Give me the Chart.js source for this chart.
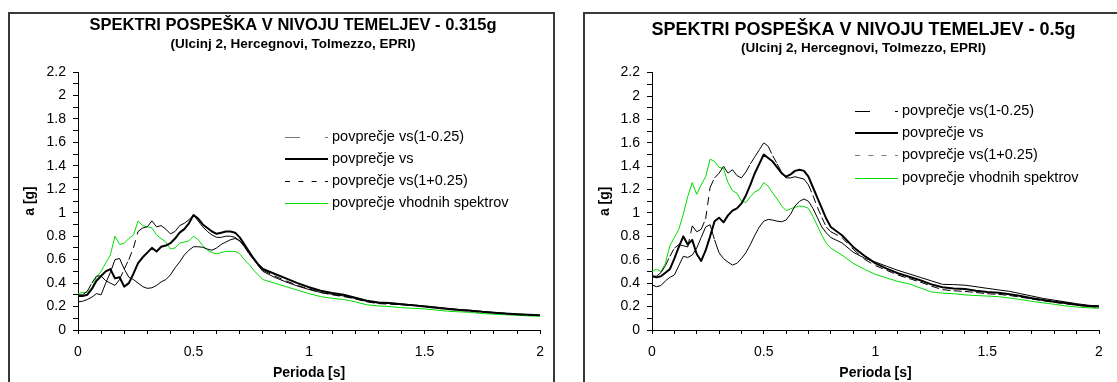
<!DOCTYPE html>
<html>
<head>
<meta charset="utf-8">
<script src="https://cdn.jsdelivr.net/npm/chart.js@4/dist/chart.umd.min.js"></script>
<style>
html,body{margin:0;padding:0;background:#fff;width:1117px;height:382px;overflow:hidden;position:relative;}
.frame{position:absolute;top:12px;height:400px;border:2px solid #383838;box-sizing:border-box;}
.holder{position:absolute;top:12px;height:370px;}
</style>
</head>
<body>
<div class="frame" style="left:8px;width:547px"></div>
<div class="frame" style="left:583px;width:547px"></div>
<div class="holder" style="left:10px;width:544px"><canvas id="c1"></canvas></div>
<div class="holder" style="left:585px;width:532px"><canvas id="c2"></canvas></div>
<script>
// ---------- data ----------
const periods = [0,0.02,0.04,0.06,0.08,0.1,0.12,0.14,0.16,0.18,0.2,0.22,0.24,0.26,0.28,0.3,0.32,0.34,0.36,0.38,0.4,0.42,0.44,0.46,0.48,0.5,0.52,0.54,0.56,0.58,0.6,0.62,0.64,0.66,0.68,0.7,0.72,0.74,0.76,0.78,0.8,
  0.85,0.9,0.95,1,1.05,1.1,1.15,1.2,1.25,1.3,1.35,1.4,1.45,1.5,1.55,1.6,1.65,1.7,1.75,1.8,1.85,1.9,1.95,2];

const seriesNames = ['povprečje vs(1-0.25)','povprečje vs','povprečje vs(1+0.25)','povprečje vhodnih spektrov'];

// chart 1: 0.315g
const a315_minus = [0.24,0.245,0.26,0.28,0.31,0.30,0.40,0.49,0.60,0.61,0.52,0.45,0.43,0.40,0.37,0.355,0.36,0.38,0.41,0.43,0.47,0.53,0.58,0.64,0.68,0.71,0.71,0.705,0.69,0.68,0.70,0.73,0.75,0.77,0.78,0.76,0.72,0.66,0.61,0.55,0.50,
  0.45,0.41,0.375,0.345,0.32,0.305,0.29,0.27,0.245,0.23,0.225,0.222,0.215,0.205,0.195,0.185,0.175,0.168,0.158,0.15,0.143,0.136,0.13,0.125];
const a315_mid = [0.29,0.29,0.30,0.35,0.42,0.46,0.50,0.52,0.44,0.45,0.37,0.40,0.48,0.57,0.62,0.66,0.70,0.67,0.71,0.72,0.74,0.78,0.83,0.86,0.91,0.98,0.95,0.90,0.87,0.84,0.82,0.83,0.84,0.84,0.83,0.79,0.73,0.67,0.61,0.56,0.52,
  0.48,0.44,0.40,0.365,0.335,0.315,0.30,0.275,0.25,0.235,0.23,0.22,0.21,0.20,0.19,0.18,0.17,0.165,0.155,0.148,0.14,0.135,0.13,0.126];
const a315_plus = [0.30,0.30,0.33,0.40,0.46,0.46,0.42,0.40,0.38,0.43,0.52,0.60,0.70,0.84,0.87,0.88,0.93,0.88,0.89,0.86,0.82,0.84,0.89,0.91,0.94,0.98,0.93,0.88,0.84,0.81,0.79,0.79,0.80,0.80,0.79,0.76,0.71,0.65,0.60,0.55,0.51,
  0.46,0.42,0.38,0.35,0.32,0.30,0.285,0.265,0.24,0.225,0.22,0.215,0.21,0.20,0.19,0.18,0.17,0.16,0.152,0.145,0.138,0.132,0.127,0.123];
const a315_input = [0.31,0.32,0.32,0.36,0.45,0.50,0.57,0.64,0.80,0.73,0.74,0.78,0.81,0.93,0.89,0.88,0.87,0.81,0.78,0.75,0.69,0.70,0.74,0.75,0.76,0.80,0.77,0.72,0.68,0.66,0.65,0.66,0.67,0.67,0.67,0.65,0.60,0.56,0.51,0.47,0.43,
  0.40,0.37,0.34,0.31,0.285,0.27,0.26,0.24,0.215,0.205,0.20,0.19,0.185,0.18,0.17,0.16,0.155,0.15,0.14,0.135,0.13,0.125,0.12,0.117];

// chart 2: 0.5g
const a05_minus = [0.385,0.37,0.38,0.42,0.45,0.47,0.55,0.63,0.62,0.64,0.70,0.79,0.88,0.90,0.77,0.66,0.61,0.58,0.555,0.57,0.61,0.66,0.73,0.81,0.88,0.93,0.945,0.94,0.93,0.925,0.94,0.99,1.06,1.10,1.12,1.10,1.04,0.96,0.88,0.83,0.79,
  0.745,0.665,0.615,0.58,0.545,0.51,0.48,0.45,0.42,0.39,0.388,0.383,0.37,0.356,0.343,0.33,0.31,0.29,0.27,0.255,0.24,0.225,0.212,0.205];
const a05_mid = [0.46,0.45,0.46,0.49,0.52,0.61,0.71,0.80,0.73,0.77,0.65,0.59,0.68,0.80,0.93,0.96,0.92,0.98,1.02,1.04,1.08,1.15,1.24,1.34,1.42,1.50,1.47,1.44,1.39,1.34,1.31,1.33,1.36,1.37,1.36,1.31,1.22,1.13,1.04,0.95,0.88,
  0.81,0.71,0.635,0.57,0.525,0.485,0.455,0.425,0.39,0.365,0.355,0.35,0.335,0.325,0.318,0.305,0.29,0.272,0.256,0.242,0.23,0.216,0.206,0.2];
const a05_plus = [0.46,0.46,0.49,0.55,0.63,0.70,0.73,0.72,0.71,0.89,0.84,0.86,0.95,1.22,1.30,1.34,1.40,1.34,1.37,1.32,1.30,1.35,1.42,1.48,1.54,1.60,1.57,1.49,1.42,1.35,1.30,1.30,1.31,1.30,1.29,1.24,1.15,1.05,0.96,0.88,0.84,
  0.79,0.69,0.605,0.55,0.51,0.47,0.44,0.41,0.375,0.345,0.335,0.33,0.32,0.31,0.305,0.295,0.28,0.265,0.25,0.236,0.224,0.212,0.202,0.196];
const a05_input = [0.50,0.52,0.50,0.57,0.72,0.79,0.86,0.99,1.14,1.26,1.16,1.24,1.31,1.46,1.44,1.39,1.38,1.26,1.19,1.17,1.10,1.09,1.14,1.18,1.20,1.26,1.23,1.17,1.12,1.06,1.02,1.035,1.05,1.06,1.055,1.04,0.97,0.89,0.81,0.74,0.70,
  0.64,0.57,0.52,0.475,0.445,0.415,0.395,0.36,0.325,0.315,0.31,0.30,0.295,0.29,0.285,0.273,0.26,0.245,0.232,0.22,0.206,0.196,0.19,0.185];

const xTicks = [0,0.1,0.2,0.3,0.4,0.5,0.6,0.7,0.8,0.9,1,1.1,1.2,1.3,1.4,1.5,1.6,1.7,1.8,1.9,2];
const xTickLabels = ['0','0.5','1','1.5','2'];
const yTicks = [0,0.1,0.2,0.3,0.4,0.5,0.6,0.7,0.8,0.9,1,1.1,1.2,1.3,1.4,1.5,1.6,1.7,1.8,1.9,2,2.1,2.2];
const yTickLabels = ['0','0.2','0.4','0.6','0.8','1','1.2','1.4','1.6','1.8','2','2.2'];

const titles1 = ['SPEKTRI POSPEŠKA V NIVOJU TEMELJEV - 0.315g', '(Ulcinj 2, Hercegnovi, Tolmezzo, EPRI)'];
const titles2 = ['SPEKTRI POSPEŠKA V NIVOJU TEMELJEV - 0.5g', '(Ulcinj 2, Hercegnovi, Tolmezzo, EPRI)'];
const xTitle = 'Perioda [s]';
const yTitle = 'a [g]';

// ---------- rendering ----------
const FONT = "'Liberation Sans', Arial, Helvetica, sans-serif";
Chart.defaults.font.family = FONT;
Chart.defaults.color = '#000';

const fmt = v => String(Math.round(v * 10) / 10);

const insideLegend = {
  id: 'insideLegend',
  afterDatasetsDraw(chart, args, opts) {
    const {ctx, chartArea} = chart;
    ctx.save();
    chart.data.datasets.forEach((ds, i) => {
      const yc = chartArea.top + opts.y + i * opts.step;
      const x0 = Math.round(chartArea.left + opts.x);
      const lw = ds.borderWidth;
      const yl = lw % 2 ? Math.round(yc) + 0.5 : Math.round(yc);
      ctx.beginPath();
      ctx.setLineDash(ds.legendDash || []);
      ctx.lineDashOffset = 0;
      ctx.strokeStyle = ds.legendColor || ds.borderColor;
      ctx.lineWidth = lw;
      ctx.moveTo(x0, yl);
      ctx.lineTo(x0 + opts.len, yl);
      ctx.stroke();
      ctx.setLineDash([]);
      ctx.fillStyle = '#000';
      ctx.font = opts.fontSize + 'px ' + FONT;
      ctx.textAlign = 'left';
      ctx.textBaseline = 'middle';
      ctx.fillText(ds.label, x0 + opts.len + 4, yc);
    });
    ctx.restore();
  }
};

// restart dash pattern on every segment (as the original plotting program does)
const restartDash = {borderDashOffset: c => (c.p0DataIndex % 2) * 0.001};

function buildDatasets(minus, mid, plus, input, greyIndex) {
  const pts = arr => periods.map((x, i) => ({x, y: arr[i]}));
  return [
    {label: seriesNames[0], data: pts(minus), borderColor: '#000', borderWidth: 1,
     borderDash: [15, 25, 3, 25], legendDash: [15, 25, 3, 25], legendColor: greyIndex === 0 ? '#7a7a7a' : '#000', segment: restartDash},
    {label: seriesNames[1], data: pts(mid), borderColor: '#000', borderWidth: 2},
    {label: seriesNames[2], data: pts(plus), borderColor: '#000', borderWidth: 1,
     borderDash: [8, 6], legendDash: [5, 8.3], legendColor: greyIndex === 2 ? '#7a7a7a' : '#000', segment: restartDash},
    {label: seriesNames[3], data: pts(input), borderColor: '#00dd00', borderWidth: 1}
  ];
}

function makeChart(id, titles, datasets, L) {
  return new Chart(document.getElementById(id), {
    type: 'line',
    data: {datasets},
    plugins: [insideLegend],
    options: {
      animation: false,
      responsive: true,
      maintainAspectRatio: false,
      devicePixelRatio: 1,
      layout: {padding: {left: L.padLeft, right: L.padRight, top: 0, bottom: 0}},
      elements: {point: {radius: 0, hoverRadius: 0}, line: {tension: 0, borderCapStyle: 'butt', borderJoinStyle: 'round'}},
      plugins: {
        legend: {display: false},
        tooltip: {enabled: false},
        title: {display: true, text: titles[0], color: '#000',
          font: {size: L.titleSize, weight: 'bold', family: FONT}, padding: {top: L.titleTop, bottom: 0}},
        subtitle: {display: true, text: titles[1], color: '#000',
          font: {size: 13.5, weight: 'bold', family: FONT}, padding: {top: 0, bottom: L.subBottom}},
        insideLegend: {x: L.legX, y: L.legY, step: L.legStep, len: 43, fontSize: 14.5}
      },
      scales: {
        x: {
          type: 'linear', min: 0, max: 2,
          afterBuildTicks: s => { s.ticks = xTicks.map(v => ({value: v})); },
          afterFit: s => { s.height = 52; },
          ticks: {autoSkip: false, maxRotation: 0, padding: 10, color: '#000', font: {size: 14},
            callback: v => xTickLabels.includes(fmt(v)) ? fmt(v) : ''},
          grid: {display: true, drawOnChartArea: false, drawTicks: true, tickLength: 4, color: '#000', lineWidth: 1},
          border: {display: true, color: '#000', width: 1},
          title: {display: true, text: xTitle, color: '#000', font: {size: 14, weight: 'bold'}, padding: {top: 0, bottom: 0}}
        },
        y: {
          type: 'linear', min: 0, max: 2.2,
          afterBuildTicks: s => { s.ticks = yTicks.map(v => ({value: v})); },
          afterFit: s => { s.width = L.yWidth; },
          ticks: {autoSkip: false, padding: 7, color: '#000', font: {size: 14},
            callback: v => yTickLabels.includes(fmt(v)) ? fmt(v) : ''},
          grid: {display: true, drawOnChartArea: false, drawTicks: true, tickLength: 5, color: '#000', lineWidth: 1},
          border: {display: true, color: '#000', width: 1},
          title: {display: true, text: yTitle, color: '#000', font: {size: 14, weight: 'bold'}, padding: {top: L.yTitlePad, bottom: 0}}
        },
        // empty right-hand margin box (no ticks, no line) so the plot ends where the original does
        yRight: {
          type: 'linear', position: 'right', display: true, min: 0, max: 1,
          afterFit: s => { s.width = L.rightGap; },
          ticks: {display: false},
          grid: {display: false, drawTicks: false},
          border: {display: false},
          title: {display: false}
        }
      }
    }
  });
}

makeChart('c1', titles1, buildDatasets(a315_minus, a315_mid, a315_plus, a315_input, 0),
  {padLeft: 22, padRight: 0, rightGap: 12, yWidth: 46, yTitlePad: -10.4, titleSize: 16.5, titleTop: 4, subBottom: 20,
   legX: 207, legY: 65, legStep: 22});
makeChart('c2', titles2, buildDatasets(a05_minus, a05_mid, a05_plus, a05_input, 2),
  {padLeft: 25, padRight: 0, rightGap: 18, yWidth: 42, yTitlePad: -13.4, titleSize: 18, titleTop: 7, subBottom: 15.8,
   legX: 203, legY: 38.4, legStep: 22.2});
</script>
</body>
</html>
